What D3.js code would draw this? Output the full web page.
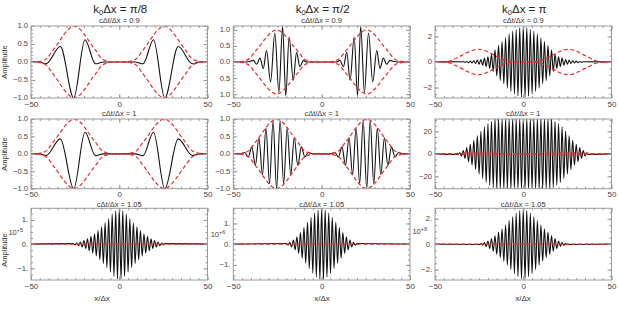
<!DOCTYPE html>
<html lang="en">
<head>
<meta charset="UTF-8">
<title>FDTD pulses</title>
<script src="https://cdn.jsdelivr.net/npm/d3@7"></script>
<style>
  * { margin: 0; padding: 0; }
  body { background: #fff; }
  svg { font-family: "Liberation Sans", Arial, sans-serif; }
  .frame { fill: none; stroke: #9a9a9a; stroke-width: 1; }
  .black { fill: none; stroke: #111; stroke-width: 1.1; }
  .exact { fill: none; stroke: #ee2a2a; stroke-width: 1.2; stroke-dasharray: 4 2.5; }
</style>
</head>
<body>
<div id="chart"></div>
<script>
// ---------------- data ----------------
var kLabels = ["π/8", "π/2", "π"];
var courant = ["0.9", "1", "1.05"];
var xTicks = [-50, 0, 50];
var xTickLabels = ["−50", "0", "50"];

// exact solution envelope (red dashed), rows 1 and 2
var envX = [-50, -47, -44, -41, -38, -35, -32, -29, -25.5, -22, -19, -16, -13, -10, -7, -4,
            4, 7, 10, 13, 16, 19, 22, 25.5, 29, 32, 35, 38, 41, 44, 47, 50];
var envY = [0, 0, 0.03, 0.1, 0.3, 0.5, 0.72, 0.9, 1, 0.9, 0.72, 0.5, 0.3, 0.1, 0.03, 0,
            0, 0.03, 0.1, 0.3, 0.5, 0.72, 0.9, 1, 0.9, 0.72, 0.5, 0.3, 0.1, 0.03, 0, 0];
// row 3: exact solution is ~0 on the 10^5..10^9 scale
var flatX = [-50, 50];
var flatY = [0, 0];

// k0dx = pi/8 (c = 0.9 and c = 1 look the same): extrema of the black curve
var pi8X = [-50, -45, -41.5, -33.4, -25.8, -19.4, -13.5, -9, 9, 13.5, 19.4, 25.8, 33.4, 41.5, 45, 50];
var pi8Y = [0, 0, -0.05, 0.43, -1.0, 0.62, -0.05, 0, 0, -0.05, 0.62, -1.0, 0.43, -0.05, 0, 0];

// k0dx = pi/2, c = 0.9
var p2X = [-50, -42.5, -40.6, -38.7, -36.8, -34.9, -33, -31.2, -28.9, -26.5, -24.2, -22.1, -20.3, -18.4, -16.1, -14.2, -12.3, -10.4, -8.5,
           8.5, 10.4, 12.3, 14.2, 16.1, 18.4, 20.3, 22.1, 24.2, 26.5, 28.9, 31.2, 33, 34.9, 36.8, 38.7, 40.6, 42.5, 50];
var p2Y = [0, 0, 0.02, 0.05, -0.07, 0.12, -0.2, 0.36, -0.62, 0.9, -0.95, 1.1, -1.05, 0.78, -0.57, 0.3, -0.15, 0.05, 0,
           0, 0.05, -0.15, 0.3, -0.57, 0.78, -1.05, 1.1, -0.95, 0.9, -0.62, 0.36, -0.2, 0.12, -0.07, 0.05, 0.02, 0, 0];

// k0dx = pi/2, c = 1
var p5X = [-50, -46, -43.5, -41.5, -39.5, -37.5, -35.5, -33.5, -31.5, -29.5, -27.5, -25.5, -23.5, -21.5, -19.5, -17.5, -15.5, -13.5, -11.5, -9.5, -7.5, -5,
           5, 7.5, 9.5, 11.5, 13.5, 15.5, 17.5, 19.5, 21.5, 23.5, 25.5, 27.5, 29.5, 31.5, 33.5, 35.5, 37.5, 39.5, 41.5, 43.5, 46, 50];
var p5Y = [0, 0, 0.04, -0.09, 0.2, -0.33, 0.46, -0.6, 0.74, -0.85, 0.95, -1, 0.95, -0.85, 0.74, -0.6, 0.46, -0.33, 0.2, -0.09, 0.04, 0,
           0, 0.04, -0.09, 0.2, -0.33, 0.46, -0.6, 0.74, -0.85, 0.95, -1, 0.95, -0.85, 0.74, -0.6, 0.46, -0.33, 0.2, -0.09, 0.04, 0, 0];

// grid samples (one per dx) for the 2dx oscillations
var p3Start = -34;
var p3Vals = [0.02, -0.03, 0.04, -0.05, 0.07, -0.08, 0.1, -0.12, 0.15, -0.18, 0.2, -0.25, 0.3, -0.35, 0.4, -0.5, 0.6,
              -0.75, 0.95, -1.1, 1.3, -1.45, 1.6, -1.7, 1.9, -2.05, 2.2, -2.3, 2.4, -2.5, 2.55, -2.65, 2.7, -2.75,
              2.75,
              -2.75, 2.7, -2.65, 2.55, -2.5, 2.4, -2.3, 2.2, -2.05, 1.9, -1.7, 1.6, -1.45, 1.3, -1.1, 0.95, -0.75,
              0.6, -0.5, 0.4, -0.35, 0.3, -0.25, 0.2, -0.18, 0.15, -0.12, 0.1, -0.08, 0.07, -0.05, 0.04, -0.03, 0.02];

var p6Start = -37;
var p6Vals = [-0.5, 1, -2, 3, -4, 5.5, -7, 8.5, -10, 12, -14, 16, -18, 20, -22, 24, -25.5, 27, -28, 29, -30,
              31.5, -31.5, 31.5, -31.5, 31.5, -31.5, 31.5, -31.5, 31.5, -31.5, 31.5, -31.5, 31.5, -31.5, 31.5, -31.5,
              31.5,
              -31.5, 31.5, -31.5, 31.5, -31.5, 31.5, -31.5, 31.5, -31.5, 31.5, -31.5, 31.5, -31.5, 31.5, -31.5, 31.5,
              -30, 29, -28, 27, -25.5, 24, -22, 20, -18, 16, -14, 12, -10, 8.5, -7, 5.5, -4, 3, -2, 1, -0.5];

var p7Start = -26;
var p7Vals = [0.02, -0.03, 0.05, -0.07, 0.09, -0.12, 0.15, -0.18, 0.22, -0.27, 0.32, -0.37, 0.43, -0.49, 0.56, -0.64,
              0.72, -0.8, 0.88, -0.97, 1.06, -1.15, 1.24, -1.32, 1.38, -1.43,
              1.45,
              -1.43, 1.38, -1.32, 1.24, -1.15, 1.06, -0.97, 0.88, -0.8, 0.72, -0.64, 0.56, -0.49, 0.43, -0.37,
              0.32, -0.27, 0.22, -0.18, 0.15, -0.12, 0.09, -0.07, 0.05, -0.03, 0.02];

var p8Start = -20;
var p8Vals = [0.03, -0.05, 0.09, -0.14, 0.2, -0.28, 0.36, -0.45, 0.56, -0.68, 0.8, -0.92, 1.05, -1.18, 1.3, -1.4,
              1.5, -1.58, 1.65, -1.7,
              1.72,
              -1.7, 1.65, -1.58, 1.5, -1.4, 1.3, -1.18, 1.05, -0.92, 0.8, -0.68, 0.56, -0.45, 0.36, -0.28,
              0.2, -0.14, 0.09, -0.05, 0.03];

var p9Start = -25;
var p9Vals = [-0.03, 0.05, -0.08, 0.12, -0.18, 0.25, -0.35, 0.45, -0.55, 0.65, -0.8, 0.95, -1.05, 1.2, -1.35, 1.5,
              -1.65, 1.85, -2.0, 2.15, -2.3, 2.45, -2.55, 2.65, -2.72,
              2.75,
              -2.72, 2.65, -2.55, 2.45, -2.3, 2.15, -2.0, 1.85, -1.65, 1.5, -1.35, 1.2, -1.05, 0.95, -0.8,
              0.65, -0.55, 0.45, -0.35, 0.25, -0.18, 0.12, -0.08, 0.05, -0.03];

// y tick values / labels per panel type
var unitTicks = [-1, -0.5, 0, 0.5, 1];
var unitLabels = ["−1.0", "−0.5", "0.0", "0.5", "1.0"];
var unitLabelsCut = ["1.0", "0.5", "0.0", "0.5", "1.0"];   // minus signs cut off in the original
var twoTicks = [-2, 0, 2];
var twoLabels = ["−2", "0", "2"];
var twentyTicks = [-20, 0, 20];
var twentyLabels = ["−20", "0", "20"];
var oneDotTicks = [-1, 0, 1];
var oneDotLabels = ["−1.", "0.", "1."];
var twoDotLabels = ["−2.", "0.", "2."];
var exponents = ["+5", "+6", "+9"];

// ---------------- layout ----------------
var w = 618, h = 317;
var colX = [[31, 207.5], [233.3, 410], [435, 611.5]];
var rowY = [[26, 98], [119, 188.7], [208.3, 280]];
var subGap = [2.6, 3.4, 1.8];

function pairs(xs, ys) { return xs.map(function (x, i) { return [x, ys[i]]; }); }
function grid(start, vals) {
    var pts = vals.map(function (v, i) { return [start + i, v]; });
    return [[-50, 0]].concat(pts, [[50, 0]]);
}

var env = pairs(envX, envY);
var envLow = pairs(envX, envY.map(function (v) { return -v; }));
var flat = pairs(flatX, flatY);

var panels = [
    {row: 0, col: 0, ymax: 1,    ticks: unitTicks,   labels: unitLabels,    minor: 0.1,  black: pairs(pi8X, pi8Y), exact: [env, envLow]},
    {row: 0, col: 1, ymax: 1.12, ticks: unitTicks,   labels: unitLabelsCut, minor: 0.1,  black: pairs(p2X, p2Y),   exact: [env, envLow]},
    {row: 0, col: 2, ymax: 2.82, ticks: twoTicks,    labels: twoLabels,     minor: 0.5,  black: grid(p3Start, p3Vals), exact: [env, envLow]},
    {row: 1, col: 0, ymax: 1,    ticks: unitTicks,   labels: unitLabels,    minor: 0.1,  black: pairs(pi8X, pi8Y), exact: [env, envLow]},
    {row: 1, col: 1, ymax: 1,    ticks: unitTicks,   labels: unitLabels,    minor: 0.1,  black: pairs(p5X, p5Y),   exact: [env, envLow]},
    {row: 1, col: 2, ymax: 31,   ticks: twentyTicks, labels: twentyLabels,  minor: 5,    black: grid(p6Start, p6Vals), exact: [env, envLow]},
    {row: 2, col: 0, ymax: 1.48, ticks: oneDotTicks, labels: oneDotLabels,  minor: 0.25, black: grid(p7Start, p7Vals), exact: [flat], exp: exponents[0]},
    {row: 2, col: 1, ymax: 1.73, ticks: oneDotTicks, labels: oneDotLabels,  minor: 0.25, black: grid(p8Start, p8Vals), exact: [flat], exp: exponents[1]},
    {row: 2, col: 2, ymax: 2.82, ticks: twoTicks,    labels: twoDotLabels,  minor: 0.5,  black: grid(p9Start, p9Vals), exact: [flat], exp: exponents[2]}
];

var svg = d3.select('#chart').append('svg').attr('width', w).attr('height', h);

function styleAxis(g) {
    g.select('.domain').remove();
    g.attr('font-family', null).attr('font-size', 8);
    g.selectAll('line').attr('stroke', '#9a9a9a');
    g.selectAll('text').attr('fill', '#444');
}

panels.forEach(function (p, i) {
    var x0 = colX[p.col][0], x1 = colX[p.col][1];
    var y0 = rowY[p.row][0], y1 = rowY[p.row][1];
    var x = d3.scaleLinear().domain([-50, 50]).range([x0, x1]);
    var y = d3.scaleLinear().domain([-p.ymax, p.ymax]).range([y1, y0]);

    svg.append('clipPath').attr('id', 'clip' + i)
        .append('rect').attr('x', x0).attr('y', y0).attr('width', x1 - x0).attr('height', y1 - y0);

    var plot = svg.append('g').attr('clip-path', 'url(#clip' + i + ')');
    var line = d3.line().x(function (d) { return x(d[0]); }).y(function (d) { return y(d[1]); })
        .curve(d3.curveMonotoneX);

    plot.append('path').attr('class', 'black').attr('d', line(p.black));
    p.exact.forEach(function (e) {
        plot.append('path').attr('class', 'exact').attr('d', line(e));
    });

    // frame
    svg.append('rect').attr('class', 'frame')
        .attr('x', x0).attr('y', y0).attr('width', x1 - x0).attr('height', y1 - y0);

    var xMinor = d3.range(-50, 50.001, 5);
    var yMinor = d3.range(-Math.floor(p.ymax / p.minor) * p.minor, p.ymax + 1e-9, p.minor);

    // major + labels, bottom / left
    svg.append('g').attr('transform', 'translate(0,' + y1 + ')')
        .call(d3.axisBottom(x).tickValues(xTicks).tickSize(-4).tickPadding(3)
            .tickFormat(function (d, k) { return xTickLabels[k]; }))
        .call(styleAxis);
    svg.append('g').attr('transform', 'translate(' + x0 + ',0)')
        .call(d3.axisLeft(y).tickValues(p.ticks).tickSize(-4).tickPadding(3)
            .tickFormat(function (d, k) { return p.labels[k]; }))
        .call(styleAxis)
        .call(function (g) { g.selectAll('text').attr('dy', '0.26em').attr('font-size', 7.6); });
    // mirrored major ticks, top / right
    svg.append('g').attr('transform', 'translate(0,' + y0 + ')')
        .call(d3.axisTop(x).tickValues(xTicks).tickSize(-4).tickFormat(''))
        .call(styleAxis);
    svg.append('g').attr('transform', 'translate(' + x1 + ',0)')
        .call(d3.axisRight(y).tickValues(p.ticks).tickSize(-4).tickFormat(''))
        .call(styleAxis);
    // minor ticks all round
    [[d3.axisBottom(x).tickValues(xMinor), 'translate(0,' + y1 + ')'],
     [d3.axisTop(x).tickValues(xMinor), 'translate(0,' + y0 + ')'],
     [d3.axisLeft(y).tickValues(yMinor), 'translate(' + x0 + ',0)'],
     [d3.axisRight(y).tickValues(yMinor), 'translate(' + x1 + ',0)']].forEach(function (a) {
        svg.append('g').attr('transform', a[1])
            .call(a[0].tickSize(-2).tickFormat(''))
            .call(styleAxis);
    });

    // scale factor label (row 3)
    if (p.exp) {
        var ey = (y(p.ticks[p.ticks.length - 1]) + y(0)) / 2;
        var et = svg.append('text').attr('x', x0 - 8).attr('y', ey + 3)
            .attr('text-anchor', 'end').attr('font-size', 7.5).attr('fill', '#444');
        et.append('tspan').text('10');
        et.append('tspan').attr('dy', -3).attr('font-size', 5.5).text(p.exp);
    }

    // subtitle above each panel
    svg.append('text').attr('x', (x0 + x1) / 2).attr('y', y0 - subGap[p.row])
        .attr('text-anchor', 'middle').attr('font-size', 7.5).attr('fill', '#333')
        .text('cΔt/Δx = ' + courant[p.row]);
});

// column titles
kLabels.forEach(function (k, c) {
    var t = svg.append('text').attr('x', (colX[c][0] + colX[c][1]) / 2 + 1).attr('y', 13)
        .attr('text-anchor', 'middle').attr('font-size', 11.5).attr('fill', '#222');
    t.append('tspan').text('k');
    t.append('tspan').attr('dy', 2).attr('font-size', 7.5).text('0');
    t.append('tspan').attr('dy', -2).text('Δx = ' + k);
});

// axis labels
var ampY = [62, 154, 250];
ampY.forEach(function (yy) {
    svg.append('text').attr('transform', 'translate(7,' + yy + ') rotate(-90)')
        .attr('text-anchor', 'middle').attr('font-size', 7.5).attr('fill', '#333').text('Amplitude');
});
var xlabX = [102, 322, 523];
xlabX.forEach(function (xx) {
    svg.append('text').attr('x', xx).attr('y', 301).attr('text-anchor', 'middle')
        .attr('font-size', 8).attr('fill', '#333').text('x/Δx');
});
</script>
</body>
</html>
